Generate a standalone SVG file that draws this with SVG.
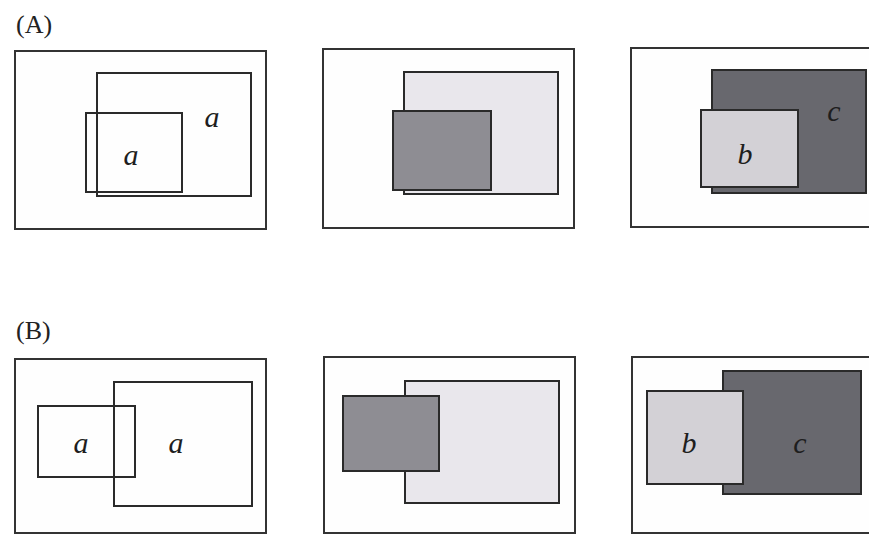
<svg xmlns="http://www.w3.org/2000/svg" width="869" height="535" viewBox="0 0 869 535">
<style>
.box{fill:none;stroke:#2a2a2a;stroke-width:2}
.frame{fill:#fefefe;stroke:#333;stroke-width:2}
.light{fill:#e9e7ec;stroke:#2a2a2a;stroke-width:2}
.mid{fill:#8e8d93;stroke:#2a2a2a;stroke-width:2}
.pale{fill:#d3d1d6;stroke:#2a2a2a;stroke-width:2}
.dark{fill:#68686e;stroke:#2a2a2a;stroke-width:2}
.lbl{font-family:"Liberation Serif",serif;font-style:italic;font-size:30px;fill:#1e1e1e;text-anchor:middle}
.hdr{font-family:"Liberation Serif",serif;font-size:26px;fill:#222}
</style>
<rect width="869" height="535" fill="#ffffff"/>
<text class="hdr" x="16" y="33">(A)</text>
<text class="hdr" x="16" y="339">(B)</text>

<g id="A1">
<rect class="frame" x="15" y="51" width="251" height="178"/>
<rect class="box" x="97" y="73" width="154" height="123"/>
<rect class="box" x="86" y="113" width="96" height="79"/>
<text class="lbl" x="212" y="127">a</text>
<text class="lbl" x="131" y="165">a</text>
</g>

<g id="A2">
<rect class="frame" x="323" y="49" width="251" height="179"/>
<rect class="light" x="404" y="72" width="154" height="122"/>
<rect class="mid" x="393" y="111" width="98" height="79"/>
</g>

<g id="A3">
<rect class="frame" x="631" y="48" width="250" height="179"/>
<rect class="dark" x="712" y="70" width="154" height="123"/>
<rect class="pale" x="701" y="110" width="97" height="77"/>
<text class="lbl" x="834" y="121">c</text>
<text class="lbl" x="745" y="164">b</text>
</g>

<g id="B1">
<rect class="frame" x="15" y="359" width="251" height="174"/>
<rect class="box" x="114" y="382" width="138" height="124"/>
<rect class="box" x="38" y="406" width="97" height="71"/>
<text class="lbl" x="81" y="453">a</text>
<text class="lbl" x="176" y="453">a</text>
</g>

<g id="B2">
<rect class="frame" x="324" y="357" width="251" height="176"/>
<rect class="light" x="405" y="381" width="154" height="122"/>
<rect class="mid" x="343" y="396" width="96" height="75"/>
</g>

<g id="B3">
<rect class="frame" x="632" y="357" width="250" height="176"/>
<rect class="dark" x="723" y="371" width="138" height="123"/>
<rect class="pale" x="647" y="391" width="96" height="93"/>
<text class="lbl" x="689" y="453">b</text>
<text class="lbl" x="800" y="453">c</text>
</g>
</svg>
